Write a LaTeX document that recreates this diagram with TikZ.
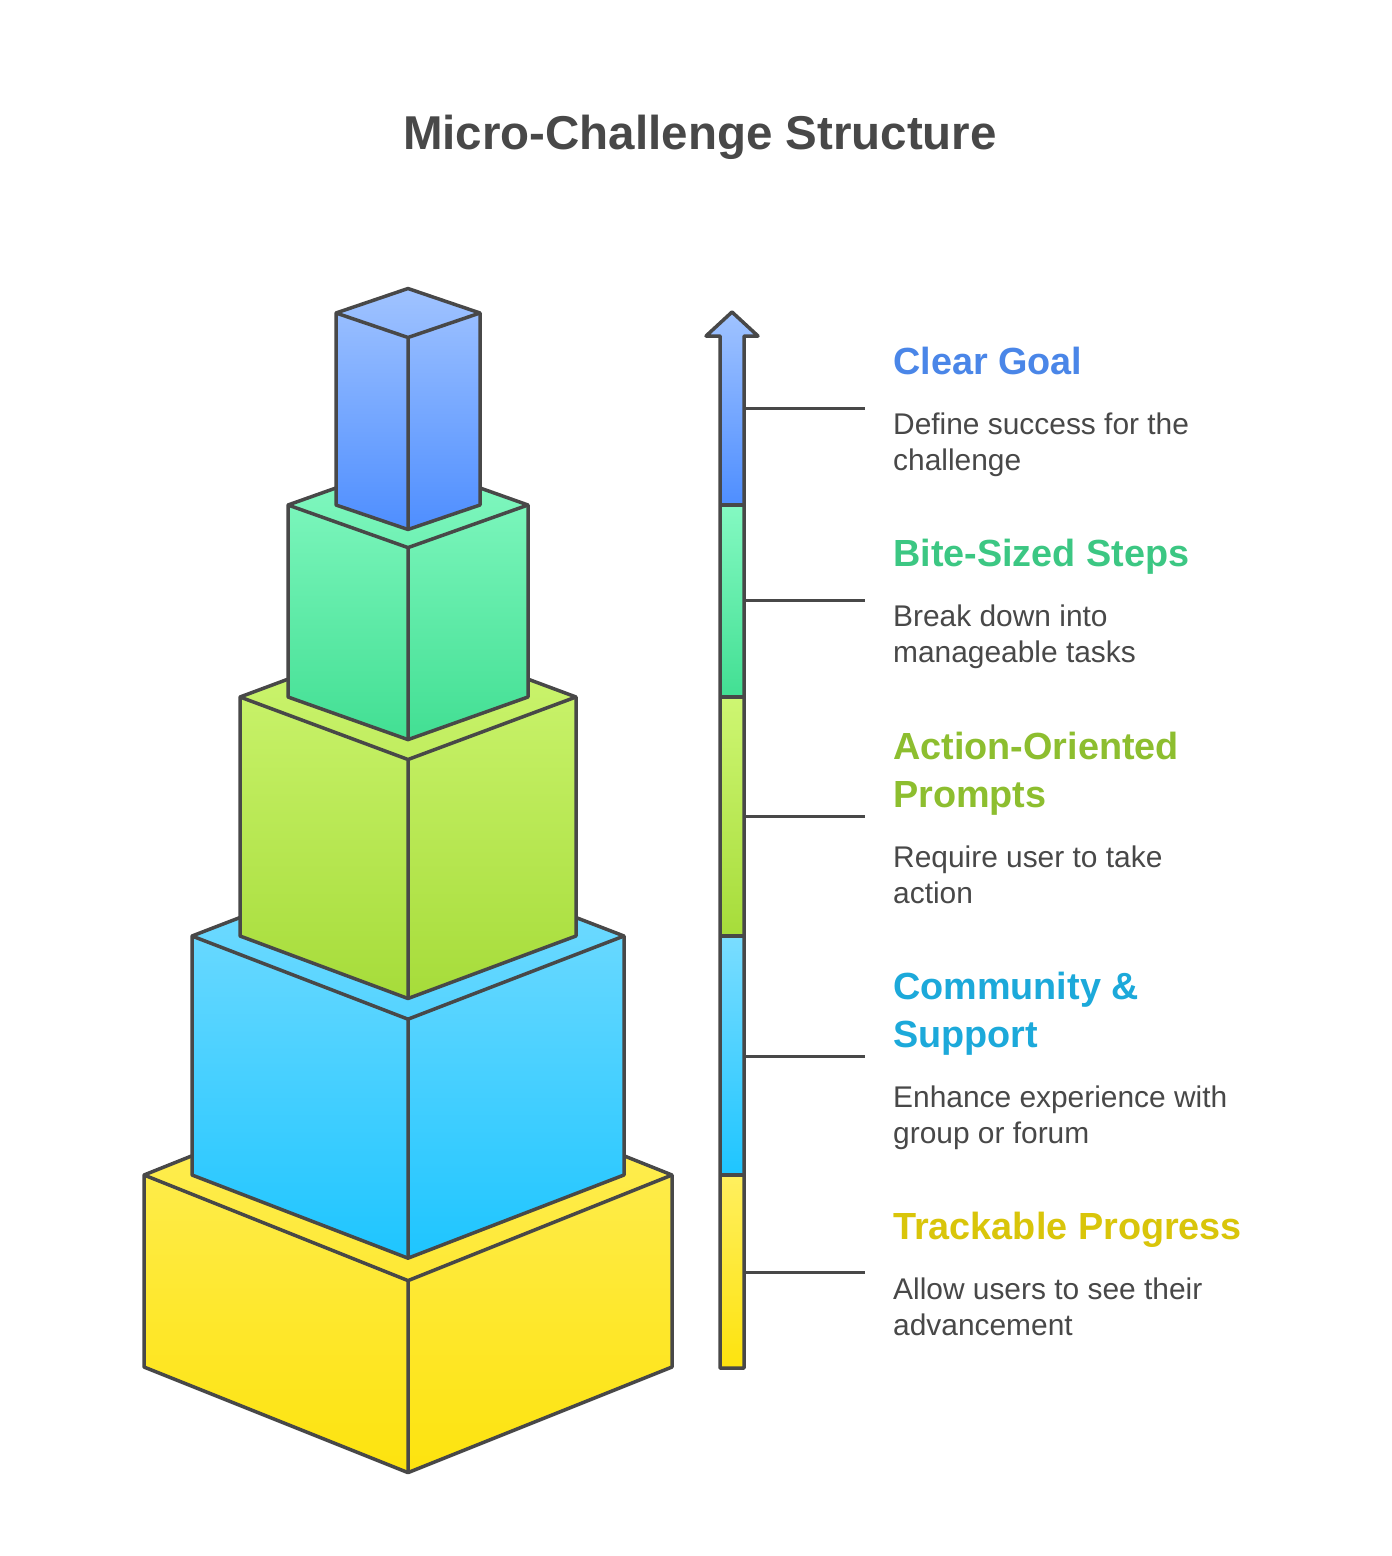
\documentclass[tikz,border=0pt]{standalone}
\usepackage{fontspec}
\setmainfont{Liberation Sans}
\definecolor{edge}{HTML}{484848}
\definecolor{blueT}{HTML}{A0C3FF}\definecolor{blueB}{HTML}{4E8EFF}
\definecolor{greenT}{HTML}{84F9C2}\definecolor{greenB}{HTML}{42DF93}
\definecolor{limeT}{HTML}{CEF672}\definecolor{limeB}{HTML}{A6DC3A}
\definecolor{cyanT}{HTML}{7ADDFF}\definecolor{cyanB}{HTML}{1EC5FF}
\definecolor{yelT}{HTML}{FFEF5E}\definecolor{yelB}{HTML}{FDE30E}
\definecolor{hBlue}{HTML}{4A86E8}
\definecolor{hGreen}{HTML}{3CC783}
\definecolor{hLime}{HTML}{8DBE2F}
\definecolor{hCyan}{HTML}{1CA9DA}
\definecolor{hYel}{HTML}{D9C50A}
\tikzset{
  edgeline/.style={draw=edge,line width=3.5pt,line join=round},
  conn/.style={draw=edge,line width=3pt},
  headtxt/.style={anchor=base west,inner sep=0pt,font=\fontsize{37.8}{48}\selectfont\bfseries},
  desctxt/.style={anchor=base west,inner sep=0pt,text=edge,font=\fontsize{29.9}{36}\selectfont},
}
\newcommand\twol[2]{\vtop{\hbox{#1}\hbox{#2}}}
\newcommand\drawcube[6]{%
  \pgfmathsetmacro\cw{#1}\pgfmathsetmacro\ct{#2}\pgfmathsetmacro\cb{#3}\pgfmathsetmacro\cd{#1*#4}%
  \path[top color=#5,bottom color=#6] (408,\ct-\cd) -- (408+\cw,\ct) -- (408+\cw,\cb) -- (408,\cb+\cd) -- (408-\cw,\cb) -- (408-\cw,\ct) -- cycle;
  \draw[edgeline] (408,\ct-\cd) -- (408+\cw,\ct) -- (408+\cw,\cb) -- (408,\cb+\cd) -- (408-\cw,\cb) -- (408-\cw,\ct) -- cycle;
  \draw[edgeline] (408-\cw,\ct) -- (408,\ct+\cd) -- (408+\cw,\ct) (408,\ct+\cd) -- (408,\cb+\cd);
}
\begin{document}
\begin{tikzpicture}[x=1pt,y=-1pt]
\useasboundingbox[fill=white] (0,0) rectangle (1392,1556);
% title
\node[anchor=base,inner sep=0pt,text=edge,font=\fontsize{47.5}{56}\selectfont\bfseries] (title) at (700,149) {Micro-Challenge Structure};
% stacked boxes
\drawcube{264}{1175}{1367}{0.40}{yelT}{yelB}
\drawcube{216}{936}{1175}{0.385}{cyanT}{cyanB}
\drawcube{168}{697}{936}{0.372}{limeT}{limeB}
\drawcube{120}{505}{697}{0.355}{greenT}{greenB}
\drawcube{72}{313}{505}{0.34}{blueT}{blueB}
% progress bar
\path[top color=blueT,bottom color=blueB] (720,505) -- (720,336) -- (706,336) -- (732,312) -- (758,336) -- (744,336) -- (744,505) -- cycle;
\path[top color=greenT,bottom color=greenB] (720,505) rectangle (744,697);
\path[top color=limeT,bottom color=limeB] (720,697) rectangle (744,936);
\path[top color=cyanT,bottom color=cyanB] (720,936) rectangle (744,1175);
\path[top color=yelT,bottom color=yelB] (720,1175) rectangle (744,1368);
\draw[edgeline] (720,1368) -- (720,336) -- (706,336) -- (732,312) -- (758,336) -- (744,336) -- (744,1368) -- cycle;
\draw[edgeline] (720,505) -- (744,505) (720,697) -- (744,697) (720,936) -- (744,936) (720,1175) -- (744,1175);
% connectors
\coordinate (a1) at (744,408); \coordinate (b1) at (865,408);
\coordinate (a2) at (744,600); \coordinate (b2) at (865,600);
\coordinate (a3) at (744,816); \coordinate (b3) at (865,816);
\coordinate (a4) at (744,1056); \coordinate (b4) at (865,1056);
\coordinate (a5) at (744,1272); \coordinate (b5) at (865,1272);
\draw[conn] (a1) -- (b1);
\draw[conn] (a2) -- (b2);
\draw[conn] (a3) -- (b3);
\draw[conn] (a4) -- (b4);
\draw[conn] (a5) -- (b5);
% labels
\node[headtxt,text=hBlue] (h1) at (893,374) {Clear Goal};
\node[desctxt] (d1) at (893,434) {\twol{Define success for the}{challenge}};
\node[headtxt,text=hGreen] (h2) at (893,566) {Bite-Sized Steps};
\node[desctxt] (d2) at (893,626) {\twol{Break down into}{manageable tasks}};
\node[headtxt,text=hLime] (h3) at (893,759) {\twol{Action-Oriented}{Prompts}};
\node[desctxt] (d3) at (893,867) {\twol{Require user to take}{action}};
\node[headtxt,text=hCyan] (h4) at (893,999) {\twol{Community \&}{Support}};
\node[desctxt] (d4) at (893,1107) {\twol{Enhance experience with}{group or forum}};
\node[headtxt,text=hYel] (h5) at (893,1239) {Trackable Progress};
\node[desctxt] (d5) at (893,1299) {\twol{Allow users to see their}{advancement}};
\end{tikzpicture}
\end{document}
